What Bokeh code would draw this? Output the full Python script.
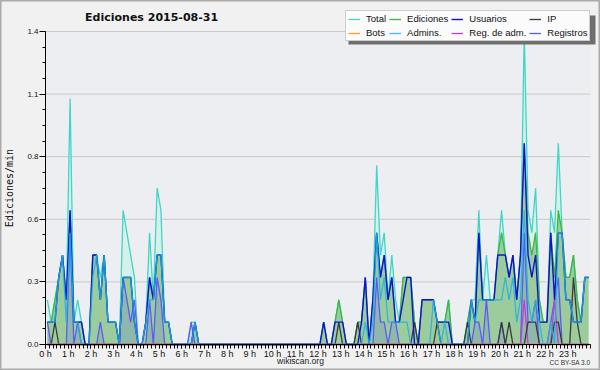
import numpy as np
from bokeh.plotting import figure
from bokeh.models import (Range1d, FixedTicker, PrintfTickFormatter, Legend,
                          LegendItem, Label, BoxAnnotation)
from bokeh.embed import file_html
from bokeh.resources import INLINE

# ---------------- data (edits per 10-minute bin, 144 bins) ----------------
HOURS = list(range(24))
DAY_HOURS = 24
Y_TICKS = [0, 0.28, 0.56, 0.84, 1.12, 1.4]
Y_MAX = 1.4
BIN_MINUTES = 10

TOTAL = [
    2, 1, 2, 3, 4, 2, 11, 1, 2, 1, 0, 0,
    4, 4, 3, 4, 1, 1, 1, 0, 6, 5, 4, 3,
    0, 0, 1, 5, 2, 7, 6, 1, 1, 0, 0, 0,
    0, 0, 1, 1, 0, 0, 0, 0, 0, 0, 0, 0,
    0, 0, 0, 0, 0, 0, 0, 0, 0, 0, 0, 0,
    0, 0, 0, 0, 0, 0, 0, 0, 0, 0, 0, 0,
    0, 1, 0, 0, 1, 2, 1, 0, 0, 0, 1, 1,
    3, 0, 2, 8, 4, 5, 2, 4, 2, 1, 3, 3,
    3, 1, 0, 2, 2, 2, 2, 1, 1, 1, 2, 0,
    0, 0, 0, 1, 2, 2, 6, 2, 4, 2, 2, 4,
    6, 4, 3, 4, 2, 4, 14, 6, 5, 7, 2, 1,
    1, 6, 5, 9, 5, 3, 3, 4, 2, 1, 3, 3,
]
EDICIONES = [
    1, 1, 2, 3, 4, 2, 6, 1, 1, 1, 0, 0,
    4, 4, 2, 4, 1, 1, 1, 0, 3, 3, 3, 1,
    0, 0, 1, 3, 2, 4, 4, 1, 1, 0, 0, 0,
    0, 0, 0, 1, 0, 0, 0, 0, 0, 0, 0, 0,
    0, 0, 0, 0, 0, 0, 0, 0, 0, 0, 0, 0,
    0, 0, 0, 0, 0, 0, 0, 0, 0, 0, 0, 0,
    0, 1, 0, 0, 1, 2, 1, 0, 0, 0, 1, 1,
    3, 0, 2, 5, 3, 4, 2, 3, 1, 1, 3, 3,
    3, 1, 0, 2, 2, 2, 2, 1, 1, 1, 2, 0,
    0, 0, 0, 1, 2, 1, 5, 2, 2, 2, 2, 4,
    5, 4, 3, 4, 2, 4, 9, 5, 4, 5, 2, 1,
    1, 5, 3, 6, 5, 3, 3, 4, 2, 1, 3, 3,
]
USUARIOS = [
    1, 1, 1, 3, 4, 2, 6, 1, 1, 1, 0, 0,
    4, 4, 2, 4, 1, 1, 1, 0, 3, 3, 3, 1,
    0, 0, 1, 3, 2, 4, 4, 1, 1, 0, 0, 0,
    0, 0, 0, 1, 0, 0, 0, 0, 0, 0, 0, 0,
    0, 0, 0, 0, 0, 0, 0, 0, 0, 0, 0, 0,
    0, 0, 0, 0, 0, 0, 0, 0, 0, 0, 0, 0,
    0, 1, 0, 0, 1, 1, 1, 0, 0, 0, 0, 1,
    3, 0, 2, 5, 3, 4, 2, 3, 1, 1, 2, 3,
    3, 0, 0, 2, 2, 2, 2, 1, 1, 1, 1, 0,
    0, 0, 0, 0, 2, 1, 5, 2, 2, 2, 2, 4,
    4, 4, 3, 4, 2, 4, 9, 4, 3, 4, 1, 1,
    1, 5, 2, 5, 5, 2, 2, 1, 1, 1, 3, 3,
]
IP = [
    0, 0, 1, 0, 0, 0, 0, 0, 0, 0, 0, 0,
    0, 0, 0, 0, 0, 0, 0, 0, 0, 0, 0, 0,
    0, 0, 0, 0, 0, 0, 0, 0, 0, 0, 0, 0,
    0, 0, 0, 0, 0, 0, 0, 0, 0, 0, 0, 0,
    0, 0, 0, 0, 0, 0, 0, 0, 0, 0, 0, 0,
    0, 0, 0, 0, 0, 0, 0, 0, 0, 0, 0, 0,
    0, 0, 0, 0, 0, 1, 0, 0, 0, 0, 1, 0,
    0, 0, 0, 0, 0, 0, 0, 0, 0, 0, 0, 0,
    0, 1, 0, 0, 0, 0, 0, 1, 0, 0, 0, 0,
    0, 0, 0, 1, 0, 0, 0, 0, 0, 0, 0, 0,
    1, 0, 1, 0, 0, 0, 0, 1, 1, 1, 0, 0,
    0, 0, 1, 1, 0, 0, 0, 3, 1, 0, 0, 0,
]
BOTS = [0] * 144
ADMINS = [
    1, 1, 1, 3, 4, 1, 5, 1, 1, 0, 0, 0,
    3, 4, 2, 4, 1, 1, 1, 0, 3, 3, 3, 1,
    0, 0, 1, 2, 2, 4, 4, 1, 1, 0, 0, 0,
    0, 0, 0, 1, 0, 0, 0, 0, 0, 0, 0, 0,
    0, 0, 0, 0, 0, 0, 0, 0, 0, 0, 0, 0,
    0, 0, 0, 0, 0, 0, 0, 0, 0, 0, 0, 0,
    0, 0, 0, 0, 0, 0, 0, 0, 0, 0, 0, 0,
    1, 0, 1, 5, 2, 3, 1, 1, 1, 1, 1, 1,
    0, 0, 0, 0, 0, 0, 2, 1, 0, 1, 0, 0,
    0, 0, 0, 0, 2, 1, 2, 2, 2, 2, 2, 2,
    2, 3, 2, 3, 1, 2, 6, 2, 1, 2, 1, 0,
    0, 1, 0, 5, 5, 2, 2, 1, 1, 1, 3, 3,
]
REG_ADM = [
    0, 0, 0, 0, 0, 0, 0, 0, 0, 0, 0, 0,
    0, 0, 0, 0, 0, 0, 0, 0, 0, 0, 0, 0,
    0, 0, 0, 0, 0, 0, 0, 0, 0, 0, 0, 0,
    0, 0, 0, 0, 0, 0, 0, 0, 0, 0, 0, 0,
    0, 0, 0, 0, 0, 0, 0, 0, 0, 0, 0, 0,
    0, 0, 0, 0, 0, 0, 0, 0, 0, 0, 0, 0,
    0, 0, 0, 0, 0, 0, 0, 0, 0, 0, 0, 0,
    0, 0, 0, 0, 0, 0, 0, 0, 0, 0, 0, 0,
    0, 0, 0, 0, 0, 0, 0, 0, 0, 0, 0, 0,
    0, 0, 0, 0, 0, 0, 0, 0, 0, 0, 0, 0,
    0, 0, 0, 0, 0, 0, 2, 0, 0, 0, 0, 0,
    0, 0, 2, 0, 0, 0, 0, 0, 0, 0, 0, 0,
]
REGISTROS = [
    1, 0, 0, 0, 0, 0, 5, 0, 1, 0, 0, 0,
    0, 0, 1, 0, 0, 0, 0, 0, 3, 2, 1, 2,
    0, 0, 0, 2, 0, 3, 2, 0, 0, 0, 0, 0,
    0, 0, 1, 0, 0, 0, 0, 0, 0, 0, 0, 0,
    0, 0, 0, 0, 0, 0, 0, 0, 0, 0, 0, 0,
    0, 0, 0, 0, 0, 0, 0, 0, 0, 0, 0, 0,
    0, 0, 0, 0, 0, 0, 0, 0, 0, 0, 0, 0,
    0, 0, 0, 3, 1, 1, 0, 1, 1, 0, 0, 0,
    0, 0, 0, 0, 0, 0, 0, 0, 0, 0, 0, 0,
    0, 0, 0, 0, 0, 1, 1, 0, 2, 0, 0, 0,
    1, 0, 0, 0, 0, 0, 5, 1, 1, 2, 0, 0,
    0, 1, 2, 3, 0, 0, 0, 0, 0, 0, 0, 0,
]

# ---------------- derived plotting arrays ----------------
x = (np.arange(len(TOTAL)) + 0.5) * BIN_MINUTES / 60.0


def per_min(a):
    return np.array(a, dtype=float) / BIN_MINUTES


tot, edi, usu, ip = per_min(TOTAL), per_min(EDICIONES), per_min(USUARIOS), per_min(IP)
bots, adm, ra, reg = per_min(BOTS), per_min(ADMINS), per_min(REG_ADM), per_min(REGISTROS)

# ---------------- layout: the frame is the whole 600x370 canvas ----------------
W, H = 600, 370
PX_LEFT, PX_RIGHT, PX_TOP, PX_BOTTOM = 45, 590, 31, 344   # plot box in pixels
xs = (PX_RIGHT - PX_LEFT) / DAY_HOURS
ys = (PX_BOTTOM - PX_TOP) / Y_MAX
x_range = Range1d(-PX_LEFT / xs, DAY_HOURS + (W - PX_RIGHT) / xs)
y_range = Range1d(-(H - PX_BOTTOM) / ys, Y_MAX + PX_TOP / ys)


def dx(px):
    return (px - PX_LEFT) / xs


def dy(py):
    return (PX_BOTTOM - py) / ys


p = figure(width=W, height=H, output_backend="svg", toolbar_location=None,
           title=None, x_range=x_range, y_range=y_range, min_border=0)
p.border_fill_color = "#f1f1f1"
p.background_fill_color = "#f1f1f1"
p.outline_line_color = "#ababab"
p.outline_line_width = 2

# plot area background
p.add_layout(BoxAnnotation(left=0, right=DAY_HOURS, bottom=0, top=Y_MAX,
                           fill_color="#edeef1", fill_alpha=1, line_color=None,
                           level="underlay"))

# horizontal grid lines
p.segment(x0=0, x1=DAY_HOURS, y0=Y_TICKS, y1=Y_TICKS,
          line_color="#c9c9c9", line_width=1)

# fills
p.varea(x=x, y1=0, y2=tot, fill_color="#d6f1ec")
p.varea(x=x, y1=0, y2=edi, fill_color="#9ccc9c")
p.varea(x=x, y1=0, y2=reg, fill_color="#5a5af0", fill_alpha=0.18)

# lines
r_tot = p.line(x, tot, line_color="#3fd6c6", line_width=1.3)
r_edi = p.line(x, edi, line_color="#3db83d", line_width=1.3)
r_reg = p.line(x, reg, line_color="#5c5cf5", line_width=1.3)
r_ra = p.line(x, ra, line_color="#c23fd8", line_width=1.3)
r_ip = p.line(x, ip, line_color="#3a3a3a", line_width=1.3)
r_bot = p.line(x, bots, line_color="#ff9a2e", line_width=1.3)
r_usu = p.line(x, usu, line_color="#1010d8", line_width=1.4)
r_adm = p.line(x, adm, line_color="#1fb2e6", line_width=1.3, line_alpha=0.85)

# axes (drawn at fixed data locations inside the canvas)
xt = FixedTicker(ticks=HOURS, minor_ticks=[k / 6 for k in range(DAY_HOURS * 6 + 1)])
p.xaxis.fixed_location = 0
p.xaxis.bounds = (0, DAY_HOURS)
p.xaxis.ticker = xt
p.xaxis.formatter = PrintfTickFormatter(format="%d h")
p.xaxis.major_tick_out = 4
p.xaxis.major_tick_in = 0
p.xaxis.minor_tick_out = 4
p.xaxis.minor_tick_in = 0
p.xaxis.major_label_standoff = 0
p.xaxis.major_label_text_font = "Liberation Sans"
p.xaxis.major_label_text_font_size = "9px"
p.xaxis.major_label_text_color = "#111111"
p.xaxis.axis_line_color = "black"

yt = FixedTicker(ticks=Y_TICKS, minor_ticks=[0.07 * k for k in range(21)])
p.yaxis.fixed_location = 0
p.yaxis.bounds = (0, Y_MAX)
p.yaxis.ticker = yt
p.yaxis.formatter = PrintfTickFormatter(format="%.1f")
p.yaxis.major_tick_out = 6
p.yaxis.major_tick_in = 0
p.yaxis.minor_tick_out = 3
p.yaxis.minor_tick_in = 0
p.yaxis.major_label_standoff = 1
p.yaxis.major_label_text_font = "Liberation Sans"
p.yaxis.major_label_text_font_size = "8px"
p.yaxis.major_label_text_color = "#111111"
p.yaxis.axis_label = "Ediciones/min"
p.yaxis.axis_label_text_font = "DejaVu Sans Mono"
p.yaxis.axis_label_text_font_size = "10px"
p.yaxis.axis_label_text_font_style = "normal"
p.yaxis.axis_label_text_color = "#111111"
p.yaxis.axis_label_standoff = 9

p.xgrid.visible = False
p.ygrid.visible = False

# legend shadow + legend
LEG_L, LEG_T, LEG_W, LEG_H = 345, 12, 247, 29
p.add_layout(BoxAnnotation(left=dx(LEG_L + 3), right=dx(LEG_L + LEG_W + 3),
                           top=dy(LEG_T + 3), bottom=dy(LEG_T + LEG_H + 3),
                           fill_color="#6e6e6e", fill_alpha=1, line_color=None))

items = [
    LegendItem(label="Total", renderers=[r_tot]),
    LegendItem(label="Ediciones", renderers=[r_edi]),
    LegendItem(label="Usuarios", renderers=[r_usu]),
    LegendItem(label="IP", renderers=[r_ip]),
    LegendItem(label="Bots", renderers=[r_bot]),
    LegendItem(label="Admins.", renderers=[r_adm]),
    LegendItem(label="Reg. de adm.", renderers=[r_ra]),
    LegendItem(label="Registros", renderers=[r_reg]),
]
legend = Legend(items=items, location=(LEG_L, H - (LEG_T + LEG_H)),
                orientation="horizontal", ncols=4,
                background_fill_color="#fbfbfb", background_fill_alpha=1,
                border_line_color="#a0a0a0", border_line_width=1,
                padding=2, spacing=3, margin=0,
                glyph_width=12, glyph_height=10, label_height=10, label_standoff=6,
                label_text_font="Liberation Sans", label_text_font_size="9.5px",
                label_text_color="#111111")
p.add_layout(legend)

# texts
p.add_layout(Label(x=dx(153), y=dy(17), text="Ediciones  2015-08-31",
                   text_font="DejaVu Sans", text_font_style="bold",
                   text_font_size="11px", text_align="center",
                   text_baseline="middle", text_color="#111111"))
p.add_layout(Label(x=dx(300), y=dy(360), text="wikiscan.org",
                   text_font="Liberation Sans", text_font_size="8.5px",
                   text_align="center", text_baseline="middle",
                   text_color="#222222"))
p.add_layout(Label(x=dx(590), y=dy(362), text="CC BY-SA 3.0",
                   text_font="Liberation Sans", text_font_size="6.5px",
                   text_align="right", text_baseline="middle",
                   text_color="#333333"))

open("out.html", "w").write(file_html(p, INLINE))
